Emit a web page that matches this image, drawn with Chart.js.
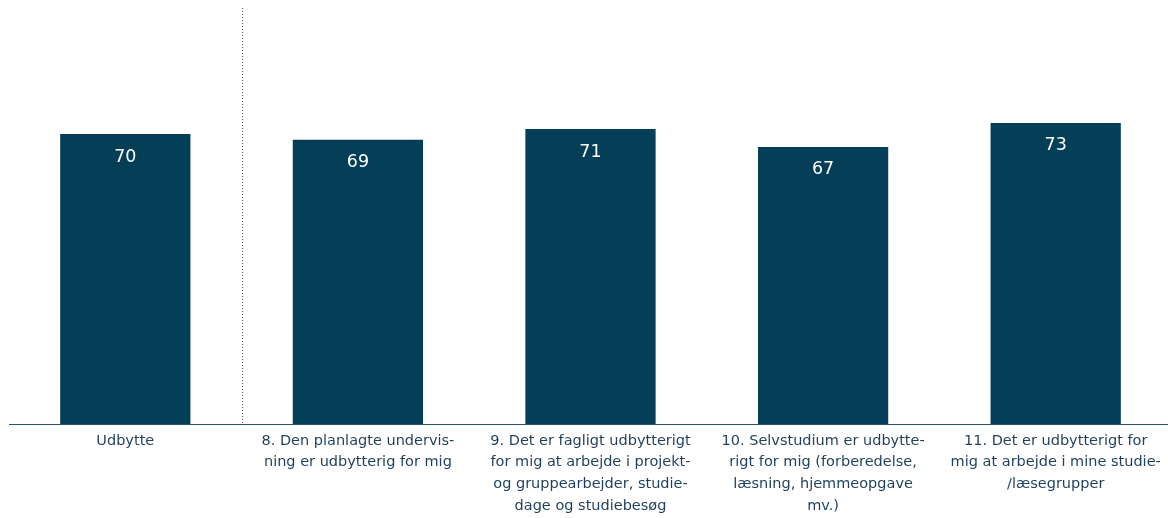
<!DOCTYPE html>
<html>
<head>
<meta charset="utf-8">
<script src="https://cdn.jsdelivr.net/npm/chart.js@4"></script>
<style>
  html, body { margin: 0; padding: 0; background: #fff; overflow: hidden; }
  #wrap { width: 1172px; height: 518px; }
</style>
</head>
<body>
<div id="wrap"><canvas id="myChart"></canvas></div>
<script>
const categories = [
  ["Udbytte"],
  ["8. Den planlagte undervis-", "ning er udbytterig for mig"],
  ["9. Det er fagligt udbytterigt", "for mig at arbejde i projekt-", "og gruppearbejder, studie-", "dage og studiebesøg"],
  ["10. Selvstudium er udbytte-", "rigt for mig (forberedelse,", "læsning, hjemmeopgave", "mv.)"],
  ["11. Det er udbytterigt for", "mig at arbejde i mine studie-", "/læsegrupper"],
];
const values = [70.2, 68.8, 71.4, 67.1, 72.9];

// white value labels inside bars + dotted separator after "Udbytte"
const extras = {
  id: "extras",
  afterDatasetsDraw(chart) {
    const ctx = chart.ctx;
    const meta = chart.getDatasetMeta(0);
    ctx.save();
    ctx.fillStyle = "#ffffff";
    ctx.font = "17.5px 'DejaVu Sans'";
    ctx.textAlign = "center";
    ctx.textBaseline = "middle";
    meta.data.forEach((bar, i) => {
      ctx.fillText(Math.round(values[i]), bar.x, bar.y + 23);
    });
    const x = chart.scales.x;
    const sepX = Math.round((x.getPixelForValue(0) + x.getPixelForValue(1)) / 2) + 0.5;
    ctx.strokeStyle = "#555555";
    ctx.lineWidth = 1;
    ctx.setLineDash([1, 2]);
    ctx.beginPath();
    ctx.moveTo(sepX, 8);
    ctx.lineTo(sepX, chart.chartArea.bottom);
    ctx.stroke();
    ctx.restore();
  },
};

new Chart("myChart", {
  type: "bar",
  data: {
    labels: categories,
    datasets: [
      {
        data: values,
        backgroundColor: "#043F57",
        barPercentage: 0.56,
        categoryPercentage: 1,
      },
    ],
  },
  options: {
    responsive: true,
    maintainAspectRatio: false,
    animation: false,
    layout: { padding: { left: 9, right: 0, top: 11, bottom: -5 } },
    plugins: { legend: { display: false }, tooltip: { enabled: false } },
    scales: {
      x: {
        grid: { display: false, drawTicks: false },
        border: { display: true, color: "#2E5275", width: 1 },
        ticks: {
          color: "#1F3F5C",
          font: { family: "'DejaVu Sans'", size: 14.5, lineHeight: 1.5 },
          padding: 6,
          maxRotation: 0,
          autoSkip: false,
        },
      },
      y: {
        display: false,
        min: 0,
        max: 100,
      },
    },
  },
  plugins: [extras],
});
</script>
</body>
</html>
